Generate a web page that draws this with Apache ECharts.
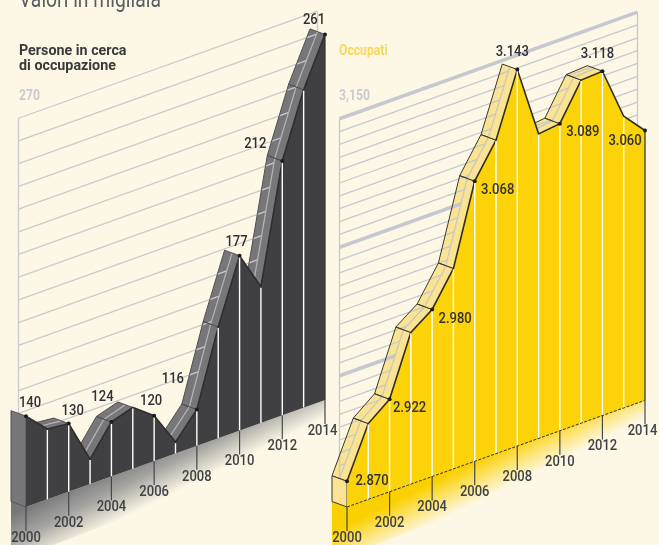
<!DOCTYPE html>
<html><head><meta charset="utf-8">
<style>html,body{margin:0;padding:0;background:#fdf8e6;overflow:hidden}#c{width:659px;height:545px}</style>
<script src="https://cdn.jsdelivr.net/npm/echarts@6/dist/echarts.min.js"></script>
</head><body><div id="c"></div>
<script>
// ---- data ----
const years = [2000,2001,2002,2003,2004,2005,2006,2007,2008,2009,2010,2011,2012,2013,2014];
const tickYears = [2000,2002,2004,2006,2008,2010,2012,2014];
const cerca = [140,131,130,111,124,127,120,105,116,149,177,160,212,240,261];
const occupati = [2870,2909,2922,2968,2980,3006,3068,3094,3143,3087,3089,3117,3118,3077,3060];
const cercaGrid = [130,140,150,160,170,180,190,200,210,220,230,240,250,260,270];
const occGrid = [2870,2880,2890,2900,2910,2920,2930,2940,2950,2960,2970,2980,2990,3000,3010,3020,3030,3040,3050,3060,3070,3080,3090,3100,3110,3120,3130,3140,3150];
const occThick = [2950,3050,3150];
// ---- label placement (pixel nudges from each even-year point) ----
const cercaNudge = [[4,-13],[4,-12],[-9,-25],[-3,-15],[-24,-30],[-3,-14],[-27,-17],[-11,-14]];
const occNudge = [[25,0],[20,9],[23,10],[23,9],[-5,-17],[23,8],[-5,-17],[-20,11]];

const FONT = 'Roboto,sans-serif';
const SQUEEZE = 0.84;
const SLOPE = 0.358, DEPTH = [-15,-5.5], MID = [-7.5,-2.75];

function label(x, y, text, fill) {
  return {type:'text', x, y, scaleX:SQUEEZE, style:{x:0,y:0,text,fill,font:'500 15.5px '+FONT,align:'center',verticalAlign:'middle'}};
}

function panel(gridIndex, vals, gridVals, thick, base, nudge, fmt, c) {
  const x0 = () => panel.x0[gridIndex];
  const shear = p => [p[0], p[1] - (p[0]-x0())*SLOPE];
  const add = (p,o,k=1) => [p[0]+o[0]*k, p[1]+o[1]*k];
  const tp = (api,i) => shear(api.coord([years[i], vals[i]]));
  const bt = (api,i) => shear(api.coord([years[i], base]));
  const visible = (a,b) => (b[1]-a[1])/(b[0]-a[0]) < DEPTH[1]/DEPTH[0];
  const base_ = {type:'custom', coordinateSystem:'cartesian2d', xAxisIndex:gridIndex, yAxisIndex:gridIndex, silent:true, animation:false, clip:false};
  const yrData = years.map((y,i)=>[y, vals[i]]);
  const out = [];
  // floor shade: fades out towards the later years
  out.push({...base_, data:[[2000,base]], renderItem:(p,api)=>{
    const a=bt(api,0), b=bt(api,14);
    const back=add(a,DEPTH), n=[0.447,0.894], d=54;
    return {type:'polygon', shape:{points:[back,a,b,[b[0],b[1]+40],[back[0],back[1]+60]]},
      style:{fill:{type:'linear',global:true,x:a[0],y:a[1],x2:a[0]+n[0]*d,y2:a[1]+n[1]*d,colorStops:c.stops}}};
  }});
  // ribbon back half
  out.push({...base_, data:yrData.slice(0,-1), renderItem:(p,api)=>{
    const i=p.dataIndex, a=tp(api,i), b=tp(api,i+1);
    if(!visible(a,b)) return {type:'group',children:[]};
    return {type:'polygon', shape:{points:[add(a,DEPTH),add(b,DEPTH),add(b,MID),add(a,MID)]}, style:{fill:c.ribbon}};
  }});
  // horizontal gridlines on the back plane
  out.push({...base_, data:gridVals.map(v=>[2000,v]), renderItem:(p,api)=>{
    const v=api.value(1), a=add(shear(api.coord([2000,v])),MID), b=add(shear(api.coord([2014,v])),MID);
    const t=thick.includes(v);
    return {type:'line', shape:{x1:a[0],y1:a[1],x2:b[0],y2:b[1]}, style:{stroke:c.grid,lineWidth:t?3.5:1.3}};
  }});
  // vertical edges of the back plane
  out.push({...base_, data:[[2000,0],[2014,0]], renderItem:(p,api)=>{
    const y=api.value(0);
    const a=add(shear(api.coord([y,gridVals[gridVals.length-1]])),MID), b=add(shear(api.coord([y,gridVals[0]])),MID);
    return {type:'line', shape:{x1:a[0],y1:a[1],x2:b[0],y2:b[1]}, style:{stroke:c.grid,lineWidth:1.3}};
  }});
  // ribbon front half + seams + edge
  out.push({...base_, data:yrData.slice(0,-1), renderItem:(p,api)=>{
    const i=p.dataIndex, a=tp(api,i), b=tp(api,i+1);
    if(!visible(a,b)) return {type:'group',children:[]};
    return {type:'group',children:[
      {type:'polygon', shape:{points:[add(a,MID),add(b,MID),b,a]}, style:{fill:c.ribbon}},
      {type:'line', shape:{x1:add(a,MID)[0],y1:add(a,MID)[1],x2:add(b,MID)[0],y2:add(b,MID)[1]}, style:{stroke:c.mid,lineWidth:1.2}},
      {type:'polyline', shape:{points:[a,add(a,DEPTH),add(b,DEPTH),b]}, style:{stroke:c.edge,lineWidth:c.edgeW,fill:null}},
    ]};
  }});
  // side face at the first year
  out.push({...base_, data:[[2000,vals[0]]], renderItem:(p,api)=>{
    const a=tp(api,0), b=bt(api,0);
    return {type:'polygon', shape:{points:[a,add(a,DEPTH),add(b,DEPTH),b]}, style:{fill:c.ribbon,stroke:c.edge,lineWidth:c.edgeW}};
  }});
  // wall
  out.push({...base_, data:[[2000,vals[0]]], renderItem:(p,api)=>{
    const top=years.map((y,i)=>tp(api,i));
    return {type:'group',children:[
      {type:'polygon', shape:{points:[...top, bt(api,14), bt(api,0)]}, style:{fill:c.wall}},
      {type:'polyline', shape:{points:top}, style:{stroke:c.line,lineWidth:1.6,fill:null}},
    ]};
  }});
  // white year lines
  out.push({...base_, data:yrData.slice(1,-1), renderItem:(p,api)=>{
    const i=p.dataIndex+1, a=tp(api,i), b=bt(api,i);
    return {type:'line', shape:{x1:a[0],y1:a[1]+1,x2:b[0],y2:b[1]}, style:{stroke:'#fff',lineWidth:1.4}};
  }});
  // right wall edge + floor edge
  out.push({...base_, data:[[2014,vals[14]]], renderItem:(p,api)=>{
    const a=tp(api,14), b=bt(api,14), f=bt(api,0);
    const kids=[{type:'line', shape:{x1:a[0],y1:a[1],x2:b[0],y2:b[1]}, style:{stroke:c.line,lineWidth:1.2}}];
    if(c.floorW) kids.push({type:'line', shape:{x1:f[0],y1:f[1],x2:b[0],y2:b[1]}, style:{stroke:c.line,lineWidth:c.floorW,lineDash:[3,1.5]}});
    return {type:'group',children:kids};
  }});
  // ticks, year labels, dots, value labels
  out.push({...base_, data:tickYears.map(y=>[y,vals[years.indexOf(y)]]), renderItem:(p,api)=>{
    const k=p.dataIndex, y=api.value(0), i=years.indexOf(y), a=tp(api,i), b=bt(api,i), n=nudge[k];
    return {type:'group',children:[
      {type:'line', shape:{x1:b[0],y1:b[1],x2:b[0],y2:b[1]+24}, style:{stroke:'#45474a',lineWidth:1.2}},
      label(b[0]+(y===2014?-2.5:0), b[1]+31, String(y), '#3f4144'),
      {type:'circle', shape:{cx:a[0],cy:a[1],r:2}, style:{fill:'#1c1c1c'}},
      label(a[0]+n[0], a[1]+n[1], fmt(vals[i]), '#2f3135'),
    ]};
  }});
  return out;
}
panel.x0 = [26,347];

const cDark = {stops:[{offset:0,color:'#77777a'},{offset:0.45,color:'#a3a29f'},{offset:1,color:'#fdf8e6'}],ribbon:'#77777a',grid:'#c9cace',mid:'#b4b4b6',edge:'#505052',edgeW:1,wall:'#404042',line:'#2e2e30',floorW:0};
const cGold = {stops:[{offset:0,color:'#fbd000'},{offset:0.3,color:'#fbd000'},{offset:1,color:'#fdf8e6'}],ribbon:'#fbe394',grid:'#c6c8cf',mid:'#c9c7b8',edge:'#3a3a30',edgeW:1,wall:'#fcd308',line:'#2e2e26',floorW:1};
const dot = v => String(v).replace(/(\d)(\d{3})$/,'$1.$2');

const axisX = i => ({type:'value',gridIndex:i,min:2000,max:2014,show:false});
const head = (x,y,text,fill,font,extra) => ({type:'text',x,y,scaleX:SQUEEZE,style:{x:0,y:0,text,fill,font:font+' '+FONT,verticalAlign:'top',...extra}});
const option = {
  backgroundColor:'#fdf8e6',
  animation:false,
  grid:[
    {left:26,width:299,top:121,height:386},
    {left:347,width:298,top:121.5,height:385.5},
  ],
  xAxis:[axisX(0),axisX(1)],
  yAxis:[
    {type:'value',gridIndex:0,min:100,max:270,show:false},
    {type:'value',gridIndex:1,min:2850,max:3150,show:false},
  ],
  series:[
    ...panel(0,cerca,cercaGrid,[],100,cercaNudge,String,cDark),
    ...panel(1,occupati,occGrid,occThick,2850,occNudge,dot,cGold),
  ],
  graphic:[
    head(19,-10,'Valori in migliaia','#5b5e62','23px'),
    {type:'text',x:19,y:44,style:{x:0,y:0,text:'Persone in cerca\ndi occupazione',fill:'#3a3a3c',font:'bold 14.3px '+FONT,lineHeight:15,verticalAlign:'top'}},
    head(19,89,'270','#c9cace','bold 14.5px'),
    head(339,44,'Occupati','#fbd65c','bold 14.5px'),
    head(339,89,'3,150','#c9cace','bold 14.5px'),
  ],
};
echarts.init(document.getElementById('c'),null,{renderer:'canvas'}).setOption(option);
</script></body></html>
